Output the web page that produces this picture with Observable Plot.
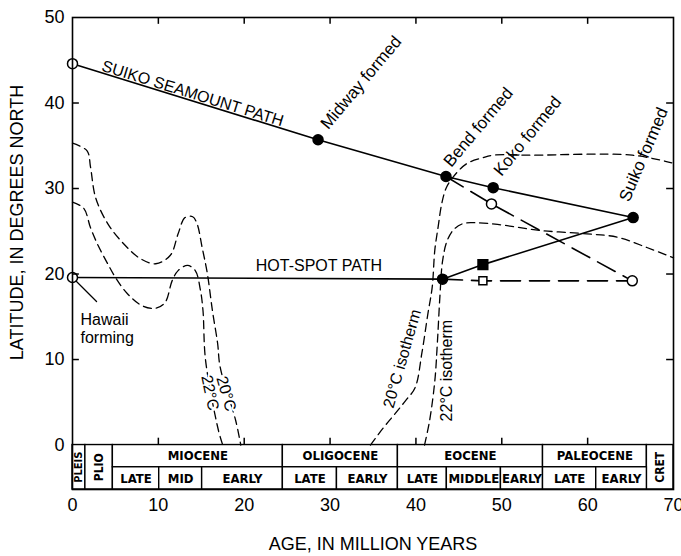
<!DOCTYPE html>
<html>
<head>
<meta charset="utf-8">
<script src="https://cdn.jsdelivr.net/npm/d3@7"></script>
<script src="https://cdn.jsdelivr.net/npm/@observablehq/plot@0.6"></script>
<style>
  body { margin: 0; background: #fff; }
  #chart svg { display: block; }
</style>
</head>
<body>
<div id="chart"></div>
<script>
// ---------- data (ages in million years, latitudes in degrees north) ----------
const xTicks = [0, 10, 20, 30, 40, 50, 60, 70];
const yTicks = [0, 10, 20, 30, 40, 50];

// Suiko seamount path
const suikoAge = [0, 28.6, 43.5, 49.0, 65.3];
const suikoLat = [44.6, 35.7, 31.4, 30.1, 26.6];
const suikoMarker = ["open", "filled", "filled", "filled", "filled"];
const formedLabels = [null, "Midway formed", "Bend formed", "Koko formed", "Suiko formed"];

// Hot-spot path (solid)
const hotspotAge = [0, 43.1, 47.8, 65.3];
const hotspotLat = [19.6, 19.4, 21.1, 26.6];
const hotspotMarker = ["open", "filled", "filledSquare", null];

// Fixed hot-spot (long dashes)
const fixedAge = [43.1, 47.8, 65.2];
const fixedLat = [19.4, 19.2, 19.2];
const fixedMarker = [null, "openSquare", "open"];

// Predicted Suiko path (long dashes)
const predictedAge = [43.5, 48.8, 65.2];
const predictedLat = [31.4, 28.2, 19.2];
const predictedMarker = [null, "open", null];

// Isotherms
const mio20Age = [0, 1.7, 2.1, 2.7, 4.1, 5.9, 7.9, 9.7, 11.4, 12.3, 13.1, 14.0, 14.5, 15.1, 15.7, 16.3, 16.9, 17.2, 19.0, 19.6];
const mio20Lat = [35.3, 34.4, 32.5, 28.9, 25.9, 23.6, 21.8, 21.2, 22.2, 24.7, 26.6, 26.7, 25.9, 23.1, 20.1, 15.7, 11.9, 9.1, 2.9, 0];
const mio22Age = [0, 1.3, 2.1, 3.0, 4.1, 5.0, 6.4, 8.1, 9.7, 10.8, 11.6, 12.3, 13.4, 14.3, 14.9, 15.2, 15.5, 17.0, 17.5];
const mio22Lat = [28.4, 27.7, 25.4, 23.3, 21.2, 19.6, 17.7, 16.3, 16.0, 16.7, 19.2, 20.4, 21.0, 20.4, 18.1, 15.7, 9.9, 1.7, 0];
const eoc20Age = [34.7, 36.2, 37.6, 38.8, 39.9, 40.7, 41.4, 41.9, 42.2, 42.6, 43.0, 43.5, 44.3, 45.9, 47.8, 49.0, 53.6, 65.2, 69.8];
const eoc20Lat = [0, 2.0, 3.7, 5.2, 6.7, 10.8, 15.4, 18.5, 22.8, 25.6, 28.2, 30.0, 31.3, 32.9, 33.6, 33.9, 33.9, 33.9, 33.0];
const eoc22Age = [41.0, 41.6, 42.2, 42.5, 42.8, 43.1, 43.6, 44.4, 45.5, 46.8, 49.5, 54.4, 59.9, 63.5, 66.9, 70];
const eoc22Lat = [0, 2.9, 7.5, 12.0, 17.5, 21.5, 23.8, 25.2, 25.9, 26.0, 25.8, 25.1, 24.7, 24.3, 23.1, 21.9];

// Isotherm labels
const isoLabelText = ["20°C", "22°C", "20°C isotherm", "22°C isotherm"];
const isoLabelAge = [17.9, 16.0, 38.4, 43.6];
const isoLabelLat = [6.0, 6.1, 10.1, 8.7];
const isoLabelAngle = [74, 78, -74, -90];

// Path labels
const pathLabelText = ["SUIKO SEAMOUNT PATH", "HOT-SPOT PATH"];
const pathLabelAge = [14.0, 28.7];
const pathLabelLat = [41.1, 21.0];
const pathLabelAngle = [17.2, 0];

// Geologic time scale
const epochNames = ["PLEIS", "PLIO", "MIOCENE", "OLIGOCENE", "EOCENE", "PALEOCENE", "CRET"];
const epochStart = [0, 1.5, 4.7, 24.5, 37.9, 54.8, 66.9];
const epochEnd = [1.5, 4.7, 24.5, 37.9, 54.8, 66.9, 70];
const epochVertical = [true, true, false, false, false, false, true];
const subNames = ["LATE", "MID", "EARLY", "LATE", "EARLY", "LATE", "MIDDLE", "EARLY", "LATE", "EARLY"];
const subStart = [4.7, 10.1, 15.1, 24.5, 30.8, 37.9, 43.6, 49.9, 54.8, 61.0];
const subEnd = [10.1, 15.1, 24.5, 30.8, 37.9, 43.6, 49.9, 54.8, 61.0, 66.9];

const xTitle = "AGE, IN MILLION YEARS";
const yTitle = "LATITUDE, IN DEGREES NORTH";

// ---------- build tables ----------
const rows = (ages, lats, extra = {}) => ages.map((a, i) => {
  const r = {age: a, lat: lats[i]};
  for (const k in extra) r[k] = extra[k][i];
  return r;
});
const suiko = rows(suikoAge, suikoLat, {marker: suikoMarker, label: formedLabels});
const hotspot = rows(hotspotAge, hotspotLat, {marker: hotspotMarker});
const fixed = rows(fixedAge, fixedLat, {marker: fixedMarker});
const predicted = rows(predictedAge, predictedLat, {marker: predictedMarker});
const isotherms = [
  rows(mio20Age, mio20Lat), rows(mio22Age, mio22Lat),
  rows(eoc20Age, eoc20Lat), rows(eoc22Age, eoc22Lat)
];
const isoLabels = rows(isoLabelAge, isoLabelLat, {text: isoLabelText, angle: isoLabelAngle});
const pathLabels = rows(pathLabelAge, pathLabelLat, {text: pathLabelText, angle: pathLabelAngle});
const allMarkers = [...suiko, ...hotspot, ...fixed, ...predicted].filter(d => d.marker);
const epochs = epochNames.map((n, i) => ({name: n, start: epochStart[i], end: epochEnd[i], vertical: epochVertical[i]}));
const subs = subNames.map((n, i) => ({name: n, start: subStart[i], end: subEnd[i]}));

// layout constants for the time-scale table (in y units below 0)
const ROW_MID = -2.6, ROW_BOT = -5.2;

const FONT = "'Liberation Sans', Arial, Helvetica, sans-serif";
const NARROW = "'Liberation Sans Narrow', 'DejaVu Sans Condensed', 'Arial Narrow', sans-serif";

// label offsets (pixels) for "formed" labels
const formedOffsets = {
  "Midway formed": {dx: 6, dy: -13, rotate: -50},
  "Bend formed": {dx: 1, dy: -12, rotate: -50},
  "Koko formed": {dx: 4, dy: -14, rotate: -51},
  "Suiko formed": {dx: -9, dy: -17, rotate: -67}
};

const marks = [];

// time scale table
marks.push(
  Plot.rect(epochs, {x1: "start", x2: "end", y1: d => d.vertical ? ROW_BOT : ROW_MID, y2: 0,
    fill: "white", stroke: "black", strokeWidth: 1.4}),
  Plot.rect(subs, {x1: "start", x2: "end", y1: ROW_BOT, y2: ROW_MID,
    fill: "white", stroke: "black", strokeWidth: 1.4}),
  Plot.text(epochs.filter(d => !d.vertical), {x: d => (d.start + d.end) / 2, y: ROW_MID / 2, text: "name",
    fontFamily: NARROW, fontWeight: "bold", fontSize: 13, fill: "black"}),
  Plot.text(epochs.filter(d => d.vertical), {x: d => (d.start + d.end) / 2, y: ROW_BOT / 2, text: "name",
    rotate: -90, fontFamily: NARROW, fontWeight: "bold", fontSize: d => d.name === "PLEIS" ? 11 : 12, fill: "black"}),
  Plot.text(subs, {x: d => (d.start + d.end) / 2, y: (ROW_MID + ROW_BOT) / 2, text: "name",
    fontFamily: NARROW, fontWeight: "bold", fontSize: 13, fill: "black"})
);

// isotherms (short dashes)
for (const iso of isotherms) {
  marks.push(Plot.line(iso, {x: "age", y: "lat", curve: "catmull-rom", stroke: "black",
    strokeWidth: 1.3, strokeDasharray: "8,5"}));
}

// isotherm labels with white halo
marks.push(Plot.text(isoLabels, {x: "age", y: "lat", text: "text", rotate: "angle",
  fontSize: 16, fontFamily: FONT, fill: "black", stroke: "white", strokeWidth: 4}));

// predicted paths (long dashes)
marks.push(
  Plot.line(fixed, {x: "age", y: "lat", stroke: "black", strokeWidth: 1.6, strokeDasharray: "20,9"}),
  Plot.line(predicted, {x: "age", y: "lat", stroke: "black", strokeWidth: 1.6, strokeDasharray: "20,9"})
);

// solid paths
marks.push(
  Plot.line(suiko, {x: "age", y: "lat", stroke: "black", strokeWidth: 1.6}),
  Plot.line(hotspot, {x: "age", y: "lat", stroke: "black", strokeWidth: 1.6})
);

// leader for "Hawaii forming"
marks.push(Plot.vector(hotspot.slice(0, 1), {x: "age", y: "lat", length: 34, rotate: 135, anchor: "start",
  stroke: "black", strokeWidth: 1.3,
  shape: {draw(ctx, l) { ctx.moveTo(0, 0); ctx.lineTo(0, -l); }}}));

// markers
marks.push(
  Plot.dot(allMarkers.filter(d => d.marker === "open"), {x: "age", y: "lat", r: 5, fill: "white", stroke: "black", strokeWidth: 1.5}),
  Plot.dot(allMarkers.filter(d => d.marker === "filled"), {x: "age", y: "lat", r: 5, fill: "black", stroke: "black"}),
  Plot.dot(allMarkers.filter(d => d.marker === "filledSquare"), {x: "age", y: "lat", r: 5.5, symbol: "square", fill: "black", stroke: "black"}),
  Plot.dot(allMarkers.filter(d => d.marker === "openSquare"), {x: "age", y: "lat", r: 4.5, symbol: "square", fill: "white", stroke: "black", strokeWidth: 1.5})
);

// "formed" labels
for (const d of suiko.filter(d => d.label)) {
  const o = formedOffsets[d.label];
  marks.push(Plot.text([d], {x: "age", y: "lat", text: "label", textAnchor: "start", lineAnchor: "middle",
    dx: o.dx, dy: o.dy, rotate: o.rotate, fontSize: 17, fontFamily: FONT, fill: "black"}));
}

// path labels
marks.push(Plot.text(pathLabels, {x: "age", y: "lat", text: "text", rotate: "angle",
  fontSize: 16, fontFamily: FONT, fill: "black"}));

// Hawaii forming
marks.push(Plot.text(hotspot.slice(0, 1), {x: "age", y: "lat", text: () => "Hawaii\nforming",
  textAnchor: "start", lineAnchor: "top", dx: 8, dy: 35, lineHeight: 1.1,
  fontSize: 16, fontFamily: FONT, fill: "black"}));

// frame and ticks
marks.push(
  Plot.frame({stroke: "black", strokeWidth: 1.6}),
  Plot.ruleX(xTicks.filter(t => t > 0 && t < 70), {x: d => d, y1: 0, y2: 0.8, stroke: "black", strokeWidth: 1.5}),
  Plot.ruleX(xTicks.filter(t => t > 0 && t < 70), {x: d => d, y1: 50, y2: 49.2, stroke: "black", strokeWidth: 1.5}),
  Plot.ruleY(yTicks.filter(t => t > 0 && t < 50), {y: d => d, x1: 0, x2: 0.8, stroke: "black", strokeWidth: 1.5}),
  Plot.ruleY(yTicks.filter(t => t > 0 && t < 50), {y: d => d, x1: 70, x2: 69.2, stroke: "black", strokeWidth: 1.5}),
  Plot.axisX(xTicks, {anchor: "bottom", tickSize: 0, tickPadding: 9, fontSize: 18, label: null}),
  Plot.axisY(yTicks, {anchor: "left", tickSize: 0, tickPadding: 8, fontSize: 18, label: null}),
  Plot.text([xTitle], {frameAnchor: "bottom", text: d => d, dy: 60, fontSize: 18, fontFamily: FONT, fill: "black"}),
  Plot.text([yTitle], {frameAnchor: "left", textAnchor: "middle", lineAnchor: "middle", text: d => d,
    dx: -55, dy: -31, rotate: -90, fontSize: 18, fontFamily: FONT, fill: "black"})
);

const chart = Plot.plot({
  width: 681,
  height: 556,
  marginTop: 17,
  marginRight: 8,
  marginBottom: 67,
  marginLeft: 72,
  x: {domain: [0, 70]},
  y: {domain: [-5.2, 50]},
  style: {fontFamily: FONT, fontSize: "18px", background: "white", color: "black", overflow: "visible"},
  marks
});
document.getElementById("chart").appendChild(chart);
</script>
</body>
</html>
